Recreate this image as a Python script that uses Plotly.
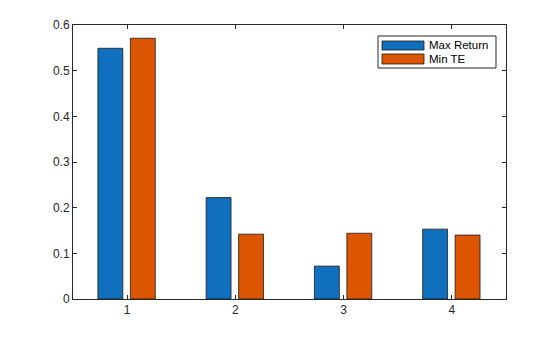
import plotly.graph_objects as go

categories = [1, 2, 3, 4]
series_names = ["Max Return", "Min TE"]
max_return = [0.549, 0.222, 0.072, 0.153]
min_te = [0.571, 0.142, 0.144, 0.140]
y_ticks = [0, 0.1, 0.2, 0.3, 0.4, 0.5, 0.6]
colors = ["#1170BE", "#DC5500"]

FONT = "Liberation Sans, Arial, sans-serif"
EDGE = "#1a1a1a"

fig = go.Figure()
for name, vals, col, off in zip(series_names, [max_return, min_te], colors, [-0.27, 0.03]):
    fig.add_trace(go.Bar(
        x=categories, y=vals, name=name,
        width=0.23, offset=off,
        marker=dict(color=col, line=dict(color=EDGE, width=0.8)),
    ))

axis_common = dict(
    showline=True, linecolor="#262626", linewidth=1,
    mirror="ticks", ticks="inside", ticklen=4, tickcolor="#262626",
    showgrid=False, zeroline=False,
    tickfont=dict(family=FONT, size=12, color="#262626"),
)

# Legend box drawn in paper coordinates (MATLAB-style wide swatches)
shapes = [dict(type="rect", xref="paper", yref="paper",
               x0=0.7044, x1=0.9769, y0=0.8431, y1=0.9599,
               line=dict(color="#262626", width=1), fillcolor="white", layer="above")]
annotations = []
row_y = [(0.9416, 0.9088), (0.8942, 0.8577)]
for name, col, (ytop, ybot) in zip(series_names, colors, row_y):
    shapes.append(dict(type="rect", xref="paper", yref="paper",
                       x0=0.7136, x1=0.8106, y0=ybot, y1=ytop,
                       line=dict(color=EDGE, width=0.8), fillcolor=col, layer="above"))
    annotations.append(dict(xref="paper", yref="paper", x=0.8176, y=(ytop + ybot) / 2,
                            xanchor="left", yanchor="middle", showarrow=False,
                            text=name, font=dict(family=FONT, size=11.5, color="#000000")))

fig.update_layout(
    width=560, height=337,
    margin=dict(l=73, r=54, t=25, b=38),
    paper_bgcolor="white", plot_bgcolor="white",
    barmode="overlay",
    showlegend=False,
    shapes=shapes, annotations=annotations,
    xaxis=dict(range=[0.5, 4.5], tickvals=categories, ticktext=[str(c) for c in categories], **axis_common),
    yaxis=dict(range=[0, 0.6], tickvals=y_ticks, ticktext=[f"{v:g}" for v in y_ticks], **axis_common),
)

fig.write_html("out.html")
